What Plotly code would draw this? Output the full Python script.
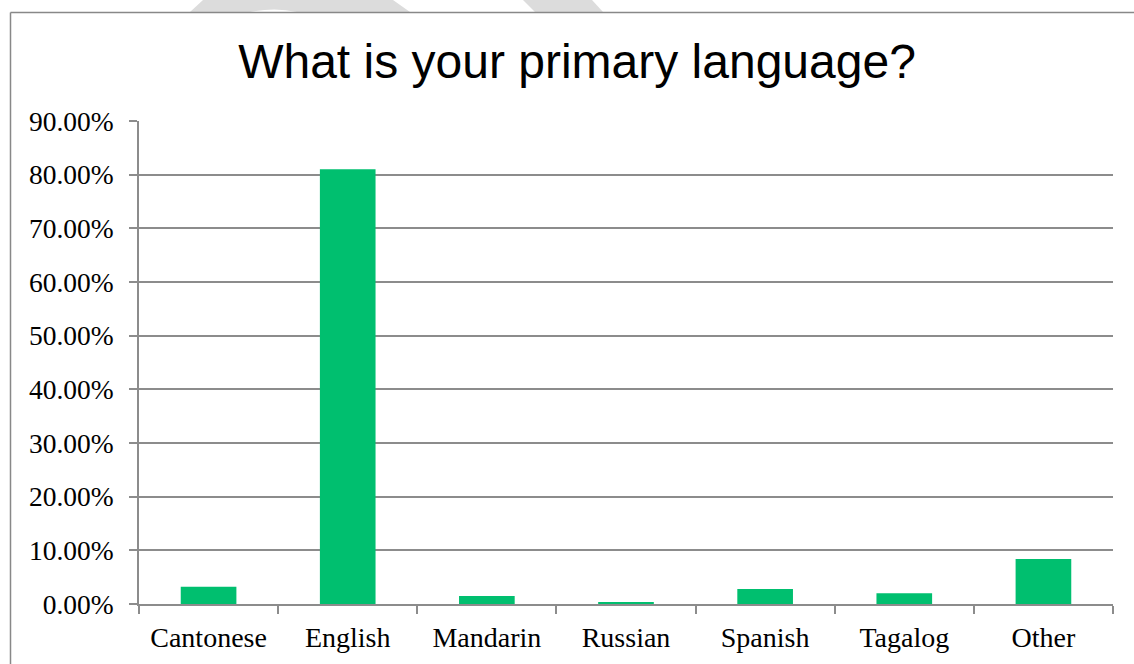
"""Survey bar chart: primary language share, Excel-style look."""
import plotly.graph_objects as go

LANGUAGES = ["Cantonese", "English", "Mandarin", "Russian", "Spanish", "Tagalog", "Other"]
SHARES = [0.032, 0.810, 0.015, 0.002, 0.028, 0.020, 0.084]
Y_TICKS = [0.0, 0.1, 0.2, 0.3, 0.4, 0.5, 0.6, 0.7, 0.8, 0.9]

BAR_COLOR = "#00bf6f"
GRID = "#8c8c8c"
W, H = 1134, 664
L, R, T, B = 139, 21, 121, 60


def px_x(p):
    return (p - L) / (W - L - R)


def px_y(p):
    return (H - B - p) / (H - T - B)


fig = go.Figure(go.Bar(x=LANGUAGES, y=SHARES, marker_color=BAR_COLOR,
                       marker_line_width=0, width=0.4))

# faint watermark fragments peeking above the chart frame
wm = "#dcdcdc"
shapes = [
    dict(type="path", xref="paper", yref="paper", fillcolor=wm, line_width=0, layer="below",
         path=(f"M {px_x(190)} {px_y(12)} L {px_x(203)} {px_y(0)} L {px_x(393)} {px_y(0)} "
               f"L {px_x(410)} {px_y(12)} L {px_x(297)} {px_y(12)} "
               f"Q {px_x(275)} {px_y(7)} {px_x(250)} {px_y(12)} Z")),
    dict(type="path", xref="paper", yref="paper", fillcolor=wm, line_width=0, layer="below",
         path=(f"M {px_x(535)} {px_y(12)} L {px_x(523)} {px_y(0)} L {px_x(592)} {px_y(0)} "
               f"L {px_x(603)} {px_y(12)} Z")),
    # chart frame (left and top edges visible)
    dict(type="line", xref="paper", yref="paper", x0=px_x(10.5), x1=px_x(10.5),
         y0=px_y(12.5), y1=px_y(H), line=dict(color="#888888", width=1.5)),
    dict(type="line", xref="paper", yref="paper", x0=px_x(10.5), x1=px_x(W),
         y0=px_y(12.5), y1=px_y(12.5), line=dict(color="#888888", width=1.5)),
]

fig.update_layout(
    width=W, height=H,
    margin=dict(l=L, r=R, t=T, b=B, pad=0),
    paper_bgcolor="white", plot_bgcolor="white",
    showlegend=False,
    title=dict(text="What is your primary language?", x=577 / W, xref="container",
               xanchor="center", y=1 - 61 / H, yref="container", yanchor="middle",
               font=dict(family="Liberation Sans, Arial", size=48, color="black")),
    shapes=shapes,
)
fig.update_yaxes(range=[0, 0.9], tickvals=Y_TICKS, tickformat=".2%",
                 showgrid=True, gridcolor=GRID, gridwidth=1.5,
                 showline=True, linecolor=GRID, linewidth=1.5,
                 ticks="outside", ticklen=8, tickcolor=GRID, tickwidth=1.5,
                 ticklabelstandoff=10,
                 zeroline=False, fixedrange=True,
                 tickfont=dict(family="Liberation Serif", size=27.5, color="black"))
fig.update_xaxes(showline=True, linecolor=GRID, linewidth=1.5,
                 ticks="outside", tickson="boundaries", ticklen=8,
                 tickcolor=GRID, tickwidth=1.5, ticklabelstandoff=8,
                 tickfont=dict(family="Liberation Serif", size=28, color="black"))

fig.write_html("out.html", config={"displayModeBar": False},
               post_script="document.body.style.margin='0';")
